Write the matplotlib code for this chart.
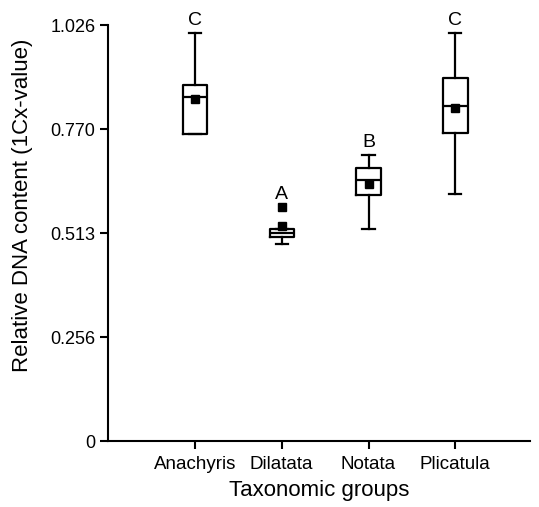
import matplotlib.pyplot as plt

plt.rcParams['font.family'] = ['Liberation Sans', 'DejaVu Sans']

# Box statistics (1Cx-value)
groups = ['Anachyris', 'Dilatata', 'Notata', 'Plicatula']
whisk_lo = [0.757, 0.486, 0.523, 0.609]
q1 = [0.757, 0.503, 0.607, 0.760]
med = [0.848, 0.513, 0.644, 0.826]
q3 = [0.878, 0.523, 0.673, 0.895]
whisk_hi = [1.006, 0.523, 0.705, 1.006]
means = [0.843, 0.530, 0.634, 0.823]
outliers = [[], [0.577], [], []]
letters = ['C', 'A', 'B', 'C']

yticks = [0, 0.256, 0.513, 0.770, 1.026]

stats = []
for i in range(len(groups)):
    stats.append({'label': groups[i], 'whislo': whisk_lo[i], 'q1': q1[i], 'med': med[i],
                  'q3': q3[i], 'whishi': whisk_hi[i], 'mean': means[i], 'fliers': outliers[i]})

fig = plt.figure(figsize=(5.39, 5.07), dpi=100)
ax = fig.add_axes([0.2004, 0.130, 0.783, 0.828])

pos = list(range(1, len(groups) + 1))
lw = 1.6
ax.bxp(stats, positions=pos, widths=0.28, showmeans=True, showfliers=True,
       boxprops=dict(color='black', linewidth=lw),
       whiskerprops=dict(color='black', linewidth=lw),
       capprops=dict(color='black', linewidth=lw),
       medianprops=dict(color='black', linewidth=lw),
       meanprops=dict(marker='s', markerfacecolor='black', markeredgecolor='black', markersize=5.5),
       flierprops=dict(marker='s', markerfacecolor='black', markeredgecolor='black', markersize=5.5))

# significance letters above the highest point of each group
for i in range(len(groups)):
    top = max([whisk_hi[i]] + outliers[i])
    ax.text(pos[i], top + 0.010, letters[i], ha='center', va='bottom', fontsize=14)

ax.set_xlim(0, 4.86)
ax.set_ylim(0, 1.036)
ax.set_yticks(yticks)
ax.set_yticklabels(['0', '0.256', '0.513', '0.770', '1.026'])
ax.set_xticks(pos)
ax.set_xticklabels(groups)

for s in ['top', 'right']:
    ax.spines[s].set_visible(False)
for s in ['left', 'bottom']:
    ax.spines[s].set_linewidth(1.5)
ax.spines['left'].set_bounds(0, 1.026)
ax.tick_params(axis='both', direction='out', length=6, width=1.5, labelsize=13, pad=3)
ax.tick_params(axis='x', pad=5, labelsize=13.5)

ax.set_xlabel('Taxonomic groups', fontsize=16, labelpad=5)
ax.set_ylabel('Relative DNA content (1Cx-value)', fontsize=16)
ax.yaxis.set_label_coords(-0.178, 0.562)

fig.savefig('out.png', dpi=100)
